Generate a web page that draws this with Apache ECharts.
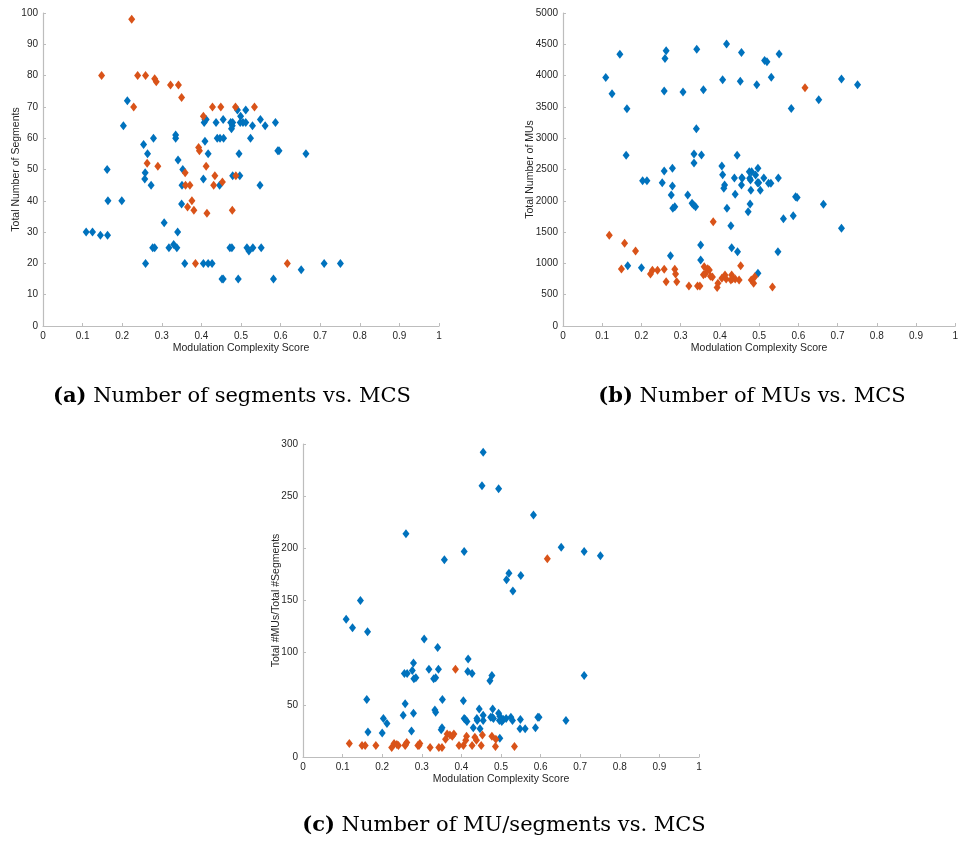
<!DOCTYPE html>
<html>
<head>
<meta charset="utf-8">
<script src="https://cdn.jsdelivr.net/npm/echarts@6/dist/echarts.min.js"></script>
<style>
  html, body { margin: 0; padding: 0; background: #fff; }
  #chart { width: 961px; height: 843px; }
</style>
</head>
<body>
<div id="chart"></div>
<script>
// Panel (a): total number of segments against modulation complexity score
const segBlue = [
  [0.213,72],[0.203,64],[0.254,58],[0.279,60],[0.335,61],[0.335,60],[0.264,55],[0.341,53],[0.353,50],
  [0.162,50],[0.258,49],[0.257,47],[0.273,45],[0.164,40],[0.199,40],[0.109,30],[0.125,30],[0.145,29],
  [0.163,29],[0.259,20],[0.277,25],[0.282,25],[0.306,33],[0.318,25],[0.330,26],[0.338,25],[0.340,30],
  [0.350,39],[0.351,45],[0.358,20],[0.409,66],[0.407,65],[0.412,66],[0.409,59],[0.417,55],[0.437,65],
  [0.440,60],[0.447,60],[0.456,60],[0.455,66],[0.474,65],[0.479,65],[0.476,63],[0.478,64],[0.491,69],
  [0.495,55],[0.499,67],[0.498,65],[0.505,65],[0.512,69],[0.512,65],[0.529,64],[0.524,60],[0.549,66],
  [0.561,64],[0.587,65],[0.593,56],[0.596,56],[0.664,55],[0.479,48],[0.497,48],[0.405,47],[0.405,20],
  [0.417,20],[0.427,20],[0.446,45],[0.452,15],[0.455,15],[0.472,25],[0.477,25],[0.493,15],[0.515,25],
  [0.520,24],[0.530,25],[0.551,25],[0.548,45],[0.710,20],[0.751,20],[0.652,18],[0.582,15]
];
const segOrange = [
  [0.224,98],[0.148,80],[0.239,80],[0.259,80],[0.282,79],[0.286,78],[0.322,77],[0.342,77],[0.350,73],
  [0.229,70],[0.405,67],[0.428,70],[0.449,70],[0.486,70],[0.534,70],[0.393,57],[0.395,56],[0.263,52],
  [0.290,51],[0.412,51],[0.359,49],[0.360,45],[0.371,45],[0.434,48],[0.487,48],[0.431,45],[0.453,46],
  [0.376,40],[0.365,38],[0.381,37],[0.414,36],[0.478,37],[0.385,20],[0.617,20]
];

// Panel (b): total number of MUs against modulation complexity score
const muBlue = [
  [0.109,3970],[0.125,3710],[0.145,4340],[0.163,3470],[0.161,2726],[0.258,3753],[0.260,4275],[0.263,4397],
  [0.306,3737],[0.341,4419],[0.358,3774],[0.340,3151],[0.334,2747],[0.353,2731],[0.334,2603],[0.258,2475],
  [0.279,2518],[0.407,3934],[0.417,4503],[0.405,2555],[0.407,2416],[0.444,2726],[0.455,4371],[0.514,4243],
  [0.520,4221],[0.551,4344],[0.452,3908],[0.494,3854],[0.531,3972],[0.710,3945],[0.751,3854],[0.652,3614],
  [0.582,3476],[0.437,2365],[0.456,2369],[0.475,2465],[0.481,2465],[0.497,2518],[0.491,2412],[0.512,2365],
  [0.549,2365],[0.203,2321],[0.214,2321],[0.253,2289],[0.279,2236],[0.276,2092],[0.280,1880],[0.285,1905],
  [0.318,2092],[0.329,1960],[0.333,1934],[0.338,1905],[0.412,2252],[0.410,2199],[0.439,2103],[0.418,1880],
  [0.428,1602],[0.430,1251],[0.445,1187],[0.351,1294],[0.351,1054],[0.274,1123],[0.165,963],[0.200,931],
  [0.497,841],[0.548,1187],[0.472,1825],[0.477,1948],[0.479,2167],[0.503,2167],[0.455,2252],[0.457,2359],
  [0.476,2359],[0.478,2332],[0.496,2289],[0.499,2289],[0.524,2279],[0.530,2279],[0.593,2065],[0.597,2054],
  [0.664,1943],[0.587,1762],[0.562,1714],[0.710,1560]
];
const muOrange = [
  [0.118,1450],[0.157,1320],[0.185,1200],[0.149,910],[0.223,830],[0.228,890],[0.241,890],[0.258,905],
  [0.263,707],[0.285,905],[0.287,830],[0.290,707],[0.321,640],[0.343,640],[0.349,640],[0.360,947],
  [0.369,915],[0.373,894],[0.358,819],[0.363,836],[0.376,793],[0.381,782],[0.383,1666],[0.393,617],
  [0.395,681],[0.405,761],[0.413,814],[0.416,750],[0.430,814],[0.432,755],[0.439,750],[0.428,734],
  [0.449,734],[0.453,963],[0.480,734],[0.486,681],[0.489,788],[0.534,623],[0.617,3806]
];

// Panel (c): MUs per segment against modulation complexity score
const ratioBlue = [
  [0.260,214],[0.357,189],[0.407,197],[0.145,150],[0.109,132],[0.125,124],[0.455,292],[0.452,260],
  [0.494,257],[0.582,232],[0.652,201],[0.710,197],[0.751,193],[0.520,176],[0.514,170],[0.550,174],
  [0.530,159],[0.163,120],[0.306,113],[0.340,105],[0.161,55],[0.164,24],[0.203,37],[0.212,32],
  [0.200,23],[0.253,40],[0.258,51],[0.274,25],[0.279,42],[0.256,80],[0.263,80],[0.276,83],
  [0.279,90],[0.280,75],[0.285,76],[0.318,84],[0.330,75],[0.335,76],[0.342,84],[0.333,45],
  [0.335,43],[0.351,28],[0.349,26],[0.352,55],[0.405,54],[0.407,37],[0.410,36],[0.414,34],
  [0.417,94],[0.416,82],[0.427,80],[0.430,28],[0.439,37],[0.440,35],[0.445,46],[0.447,27],
  [0.455,40],[0.455,35],[0.472,73],[0.477,78],[0.710,78],[0.474,38],[0.478,38],[0.481,37],
  [0.479,46],[0.494,42],[0.497,39],[0.496,35],[0.502,34],[0.506,36],[0.513,37],[0.525,38],
  [0.529,35],[0.549,36],[0.548,27],[0.561,27],[0.587,28],[0.593,38],[0.596,38],[0.664,35],[0.497,18]
];
const ratioOrange = [
  [0.117,13],[0.149,11],[0.157,11],[0.184,11],[0.224,9],[0.230,13],[0.237,12],[0.241,11],[0.259,12],
  [0.262,14],[0.258,11],[0.290,11],[0.295,13],[0.293,11],[0.321,9],[0.343,9],[0.351,9],[0.360,17],
  [0.364,22],[0.371,21],[0.377,20],[0.381,22],[0.385,84],[0.394,11],[0.405,11],[0.413,20],[0.411,16],
  [0.427,11],[0.434,19],[0.438,16],[0.450,11],[0.453,21],[0.477,20],[0.486,10],[0.487,17],[0.534,10],
  [0.617,190]
];

const xName = 'Modulation Complexity Score';
const yNames = ['Total Number of Segments', 'Total Number of MUs', 'Total #MUs/Total #Segments'];
const yMax = [100, 5000, 300];
const yStep = [10, 500, 50];
const captions = [
  ['(a)', 'Number of segments vs. MCS'],
  ['(b)', 'Number of MUs vs. MCS'],
  ['(c)', 'Number of MU/segments vs. MCS']
];

const BLUE = '#0072BD';
const ORANGE = '#D95319';
const AXIS_GREY = '#bdbdbd';
const LABEL_GREY = '#262626';
const FONT = 'Helvetica, Arial, "Liberation Sans", sans-serif';
const SERIF = '"DejaVu Serif", "Liberation Serif", serif';

const grids = [
  { left: 43, top: 13, width: 396, height: 313 },
  { left: 563, top: 13, width: 396, height: 313 },
  { left: 303, top: 444, width: 396, height: 313 }
];
const yGaps = [21, 27, 21];

function axisCommon() {
  return {
    axisLine: { show: true, lineStyle: { color: AXIS_GREY, width: 1.2 } },
    axisTick: { show: true, inside: true, length: 3, lineStyle: { color: AXIS_GREY } },
    axisLabel: {
      color: LABEL_GREY, fontSize: 10, fontFamily: FONT, margin: 5,
      formatter: v => String(Math.round(v * 10) / 10)
    },
    splitLine: { show: false },
    nameMoveOverlap: false,
    nameTextStyle: { color: LABEL_GREY, fontSize: 10.5, fontFamily: FONT }
  };
}

const xAxes = grids.map((g, i) => Object.assign(axisCommon(), {
  gridIndex: i, type: 'value', min: 0, max: 1, interval: 0.1,
  name: xName, nameLocation: 'middle', nameGap: 17
}));
const yAxes = grids.map((g, i) => Object.assign(axisCommon(), {
  gridIndex: i, type: 'value', min: 0, max: yMax[i], interval: yStep[i],
  name: yNames[i], nameLocation: 'middle', nameGap: yGaps[i], nameRotate: 90
}));

function scatter(data, color, i, z) {
  return {
    type: 'scatter', xAxisIndex: i, yAxisIndex: i, data: data,
    symbol: 'diamond', symbolSize: [7, 9], z: z,
    itemStyle: { color: color, opacity: 1 }
  };
}

const series = [
  scatter(segBlue, BLUE, 0, 2), scatter(segOrange, ORANGE, 0, 3),
  scatter(muBlue, BLUE, 1, 2), scatter(muOrange, ORANGE, 1, 3),
  scatter(ratioBlue, BLUE, 2, 2), scatter(ratioOrange, ORANGE, 2, 3)
];

const capPos = [[232, 397], [752, 397], [504, 826]];
const graphic = captions.map((c, i) => ({
  type: 'text', x: capPos[i][0], y: capPos[i][1],
  style: {
    text: '{b|' + c[0] + '} ' + c[1],
    align: 'center', verticalAlign: 'middle',
    fontFamily: SERIF, fontSize: 21, fill: '#000',
    rich: { b: { fontWeight: 'bold', fontFamily: SERIF, fontSize: 21 } }
  }
}));

const chart = echarts.init(document.getElementById('chart'), null, { renderer: 'canvas' });
chart.setOption({
  animation: false,
  backgroundColor: '#fff',
  grid: grids,
  xAxis: xAxes,
  yAxis: yAxes,
  series: series,
  graphic: graphic
});
</script>
</body>
</html>
